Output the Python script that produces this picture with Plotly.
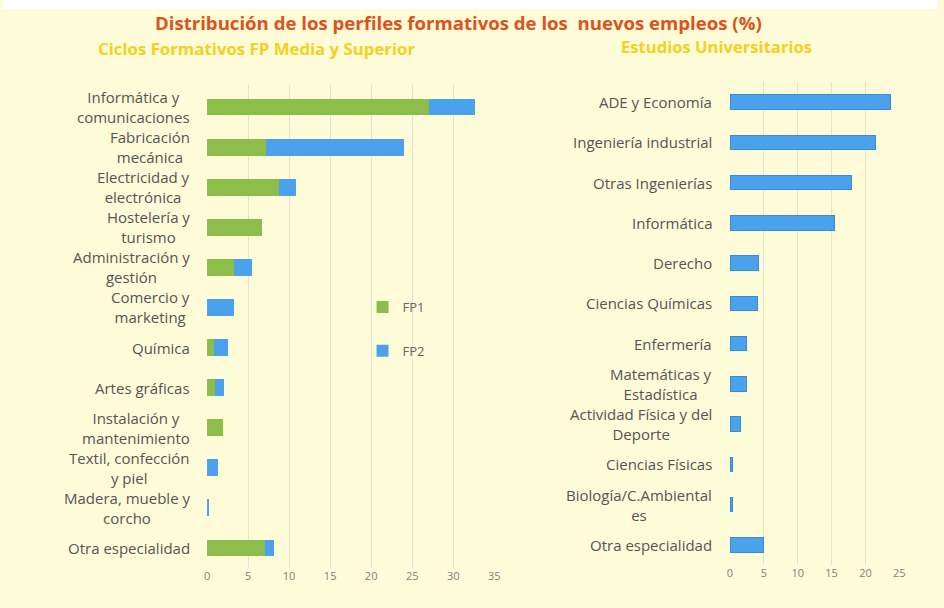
import plotly.graph_objects as go

# ---- data ----
fp_categories = [
    "Informática y<br>comunicaciones", "Fabricación<br>mecánica", "Electricidad y<br>electrónica",
    "Hostelería y<br>turismo", "Administración y<br>gestión", "Comercio y<br>marketing",
    "Química", "Artes gráficas", "Instalación y<br>mantenimiento",
    "Textil, confección<br>y piel", "Madera, mueble y<br>corcho", "Otra especialidad",
]
fp1_values = [27.1, 7.2, 8.8, 6.7, 3.3, 0.0, 0.9, 1.0, 1.9, 0.0, 0.0, 7.1]
fp2_values = [5.6, 16.8, 2.1, 0.0, 2.2, 3.3, 1.6, 1.1, 0.0, 1.3, 0.3, 1.0]

uni_categories = [
    "ADE y Economía", "Ingeniería industrial", "Otras Ingenierías", "Informática",
    "Derecho", "Ciencias Químicas", "Enfermería", "Matemáticas y<br>Estadística",
    "Actividad Física y del<br>Deporte", "Ciencias Físicas", "Biología/C.Ambiental<br>es",
    "Otra especialidad",
]
uni_values = [23.7, 21.5, 17.9, 15.4, 4.2, 4.1, 2.4, 2.5, 1.6, 0.4, 0.4, 5.0]

fp_ticks = [0, 5, 10, 15, 20, 25, 30, 35]
uni_ticks = [0, 5, 10, 15, 20, 25]

title_text = "Distribución de los perfiles formativos de los  nuevos empleos (%)"
subtitle_fp = "Ciclos Formativos FP Media y Superior"
subtitle_uni = "Estudios Universitarios"

# ---- style ----
GREEN = "#8dbd4a"
BLUE = "#4aa2ec"
BG = "#fefbd9"
LABEL = "#555555"
GRID = "#e4e1cf"
FONT = "Open Sans"

W, H = 944, 608

fig = go.Figure()
fig.add_trace(go.Bar(y=fp_categories, x=fp1_values, orientation="h", name="FP1",
                     marker=dict(color=GREEN, line=dict(width=0)), width=0.42,
                     xaxis="x", yaxis="y", legendgroup="a"))
fig.add_trace(go.Bar(y=fp_categories, x=fp2_values, orientation="h", name="FP2",
                     marker=dict(color=BLUE, line=dict(width=0)), width=0.42,
                     xaxis="x", yaxis="y", legendgroup="b"))
fig.add_trace(go.Bar(y=uni_categories, x=uni_values, orientation="h", name="Universidad",
                     marker=dict(color=BLUE, line=dict(color="#3a8ad6", width=1)), width=0.36,
                     xaxis="x2", yaxis="y2", showlegend=False))

def px_x(p):
    return p / W

def px_y(p):
    return 1 - p / H

axis_common = dict(showgrid=True, gridcolor=GRID, gridwidth=1, zeroline=False,
                   showline=False, ticks="", tickfont=dict(family=FONT, size=11, color="#808080"))

fig.update_layout(
    width=W, height=H,
    margin=dict(l=0, r=0, t=0, b=0),
    paper_bgcolor=BG, plot_bgcolor="rgba(0,0,0,0)",
    barmode="stack", bargap=0.5,
    font=dict(family=FONT, color=LABEL),
    xaxis=dict(domain=[px_x(206), px_x(496)], range=[0, 35], tickvals=fp_ticks, anchor="y", **axis_common),
    yaxis=dict(domain=[px_y(568), px_y(85)], autorange="reversed", showticklabels=False,
               showgrid=False, zeroline=False, anchor="x"),
    xaxis2=dict(domain=[px_x(734), px_x(905)], range=[0, 25], tickvals=uni_ticks, anchor="y2", **axis_common),
    yaxis2=dict(domain=[px_y(565), px_y(82)], autorange="reversed", showticklabels=False,
                showgrid=False, zeroline=False, anchor="x2"),
    legend=dict(x=px_x(363), y=px_y(292), xanchor="left", yanchor="top",
                bgcolor="rgba(0,0,0,0)", tracegroupgap=24, traceorder="grouped",
                font=dict(family=FONT, size=13, color="#666666"), itemwidth=30),
    showlegend=True,
)

annotations = []
for cat in fp_categories:
    annotations.append(dict(x=px_x(191), xref="paper", y=cat, yref="y", text=cat,
                            xanchor="right", yanchor="middle", align="center", showarrow=False,
                            font=dict(family=FONT, size=15, color=LABEL)))
for cat in uni_categories:
    annotations.append(dict(x=px_x(718), xref="paper", y=cat, yref="y2", text=cat,
                            xanchor="right", yanchor="middle", align="center", showarrow=False,
                            font=dict(family=FONT, size=15, color=LABEL)))

annotations.append(dict(x=px_x(460), y=px_y(22), xref="paper", yref="paper", text="<b>" + title_text + "</b>",
                        showarrow=False, xanchor="center", yanchor="middle", borderpad=0,
                        font=dict(family=FONT, size=18.6, color="#dc531c")))
annotations.append(dict(x=px_x(256), y=px_y(49), xref="paper", yref="paper", text="<b>" + subtitle_fp + "</b>",
                        showarrow=False, xanchor="center", yanchor="middle", borderpad=0,
                        font=dict(family=FONT, size=16.8, color="#f2d21c")))
annotations.append(dict(x=px_x(720), y=px_y(47), xref="paper", yref="paper", text="<b>" + subtitle_uni + "</b>",
                        showarrow=False, xanchor="center", yanchor="middle", borderpad=0,
                        font=dict(family=FONT, size=16.6, color="#f2d21c")))
fig.update_layout(annotations=annotations)

# white border strip at top of the scanned page
fig.add_shape(type="rect", xref="paper", yref="paper", x0=0, x1=1, y0=px_y(9), y1=1,
              fillcolor="white", line=dict(width=0), layer="below")

fig.write_html(
    "out.html",
    config={"displayModeBar": False},
    post_script=("document.body.style.margin='0';"
                 "document.body.style.overflow='hidden';"
                 "document.documentElement.style.overflow='hidden';"),
)
